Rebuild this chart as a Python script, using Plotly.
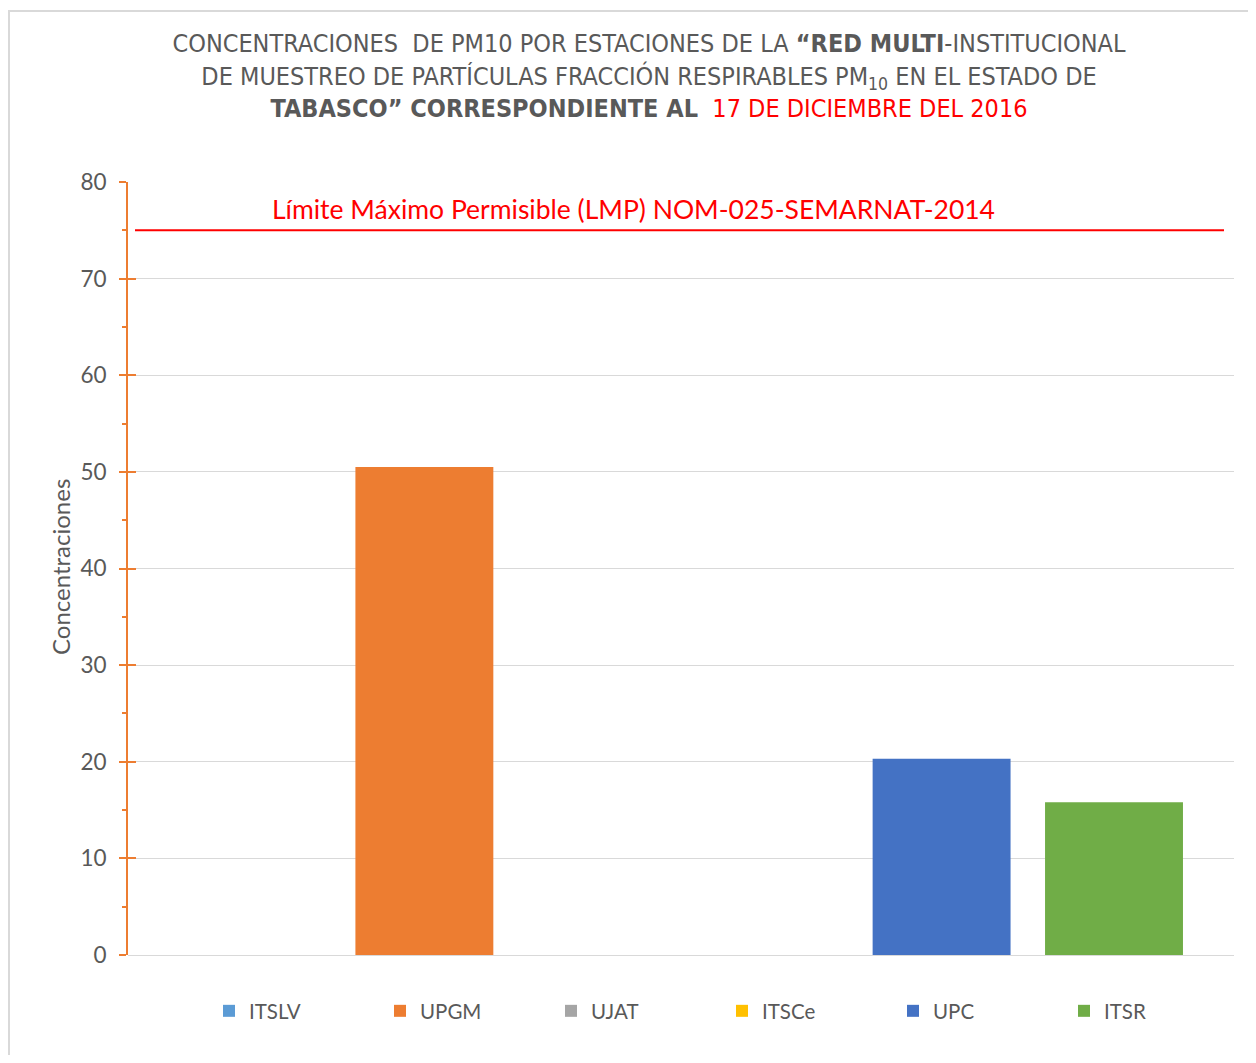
import plotly.graph_objects as go

# ---- data ----
stations = ["ITSLV", "UPGM", "UJAT", "ITSCe", "UPC", "ITSR"]
concentrations = [0, 50.5, 0, 0, 20.3, 15.8]
colors = ["#5B9BD5", "#ED7D31", "#A5A5A5", "#FFC000", "#4472C4", "#70AD47"]
lmp_value = 75
lmp_label = "Límite Máximo Permisible (LMP) NOM-025-SEMARNAT-2014"
y_ticks = [0, 10, 20, 30, 40, 50, 60, 70, 80]
y_title = "Concentraciones"

title_text = (
    "CONCENTRACIONES  DE PM10 POR ESTACIONES DE LA <b>“RED MULTI</b>-INSTITUCIONAL<br>"
    "DE MUESTREO DE PARTÍCULAS FRACCIÓN RESPIRABLES PM<sub>10</sub> EN EL ESTADO DE<br>"
    "<b>TABASCO” CORRESPONDIENTE AL</b>  <span style='color:#FF0000'>17 DE DICIEMBRE DEL 2016</span>"
)

# page body margin offset (figure drawn at page 8,8)
OFF = 8
W, H = 1240, 1047
L, T = 128 - OFF, 182 - OFF
R = W - (1234 - OFF)
B = H - (955 - OFF)
plot_w = W - L - R
plot_h = H - T - B

def px_x(p):
    """page x pixel -> paper x"""
    return (p - OFF - L) / plot_w

def px_y(p):
    """page y pixel -> paper y"""
    return (H - B - (p - OFF)) / plot_h

fig = go.Figure()
for i, (name, val, col) in enumerate(zip(stations, concentrations, colors)):
    fig.add_trace(go.Bar(x=[i], y=[val], name=name, marker_color=col,
                         width=0.8, marker_line_width=0))

# invisible trace for the inner tick axis
fig.add_trace(go.Scatter(x=[None], y=[None], yaxis="y2", showlegend=False,
                         hoverinfo="skip"))

base_font = "Lato, Open Sans, sans-serif"
axis_orange = "#ED7D31"

fig.update_layout(
    width=W, height=H,
    margin=dict(l=L, r=R, t=T, b=B, autoexpand=False),
    paper_bgcolor="white", plot_bgcolor="white",
    barmode="overlay",
    font=dict(family=base_font, color="#595959"),
    title=dict(text=title_text, x=(649 - OFF) / W, xref="container", xanchor="center",
               y=1 - (52 - OFF) / H, yref="container", yanchor="top",
               font=dict(family="Liberation Sans Narrow, DejaVu Sans Condensed, Liberation Sans",
                         size=25, color="#595959")),
    xaxis=dict(range=[-0.719, 5.696], showticklabels=False, showgrid=False,
               zeroline=False, showline=False, ticks=""),
    yaxis=dict(range=[0, 80], tickvals=y_ticks, showgrid=True, gridcolor="#D9D9D9",
               gridwidth=1, zeroline=True, zerolinecolor="#D9D9D9", zerolinewidth=1,
               showline=True, linecolor=axis_orange, linewidth=2,
               ticks="outside", ticklen=7, tickwidth=2, tickcolor=axis_orange,
               minor=dict(dtick=5, ticks="outside", ticklen=4, tickwidth=1.5,
                          tickcolor=axis_orange, showgrid=False),
               tickfont=dict(family=base_font, size=22.5, color="#595959"),
               ticklabelstandoff=8),
    yaxis2=dict(range=[0, 80], overlaying="y", side="left", anchor="x",
                tickvals=y_ticks, ticks="inside", ticklen=8, tickwidth=2,
                tickcolor=axis_orange, showticklabels=False, showgrid=False,
                zeroline=False, showline=False),
    legend=dict(orientation="h", x=px_x(209), xanchor="left", y=px_y(1011),
                yanchor="middle", entrywidth=126, entrywidthmode="pixels",
                font=dict(family=base_font, size=20.5, color="#595959"),
                traceorder="normal", bgcolor="rgba(0,0,0,0)"),
    showlegend=True,
)

# LMP line
fig.add_shape(type="line", xref="paper", yref="y", x0=px_x(135), x1=px_x(1224),
              y0=lmp_value, y1=lmp_value, line=dict(color="#FF0000", width=2))
fig.add_annotation(text=lmp_label, xref="paper", yref="paper", x=px_x(633), y=px_y(209),
                   xanchor="center", yanchor="middle", showarrow=False,
                   font=dict(family=base_font, size=26.5, color="#FF0000"))

# y axis title
fig.add_annotation(text=y_title, xref="paper", yref="paper", x=px_x(60), y=px_y(567),
                   xanchor="center", yanchor="middle", showarrow=False, textangle=-90,
                   font=dict(family=base_font, size=24, color="#595959"))

# outer chart border (top & left visible)
fig.add_shape(type="rect", xref="paper", yref="paper", x0=px_x(9), x1=px_x(1300),
              y0=px_y(1100), y1=px_y(11), line=dict(color="#D9D9D9", width=2),
              fillcolor="rgba(0,0,0,0)", layer="below")

fig.write_html("out.html")
